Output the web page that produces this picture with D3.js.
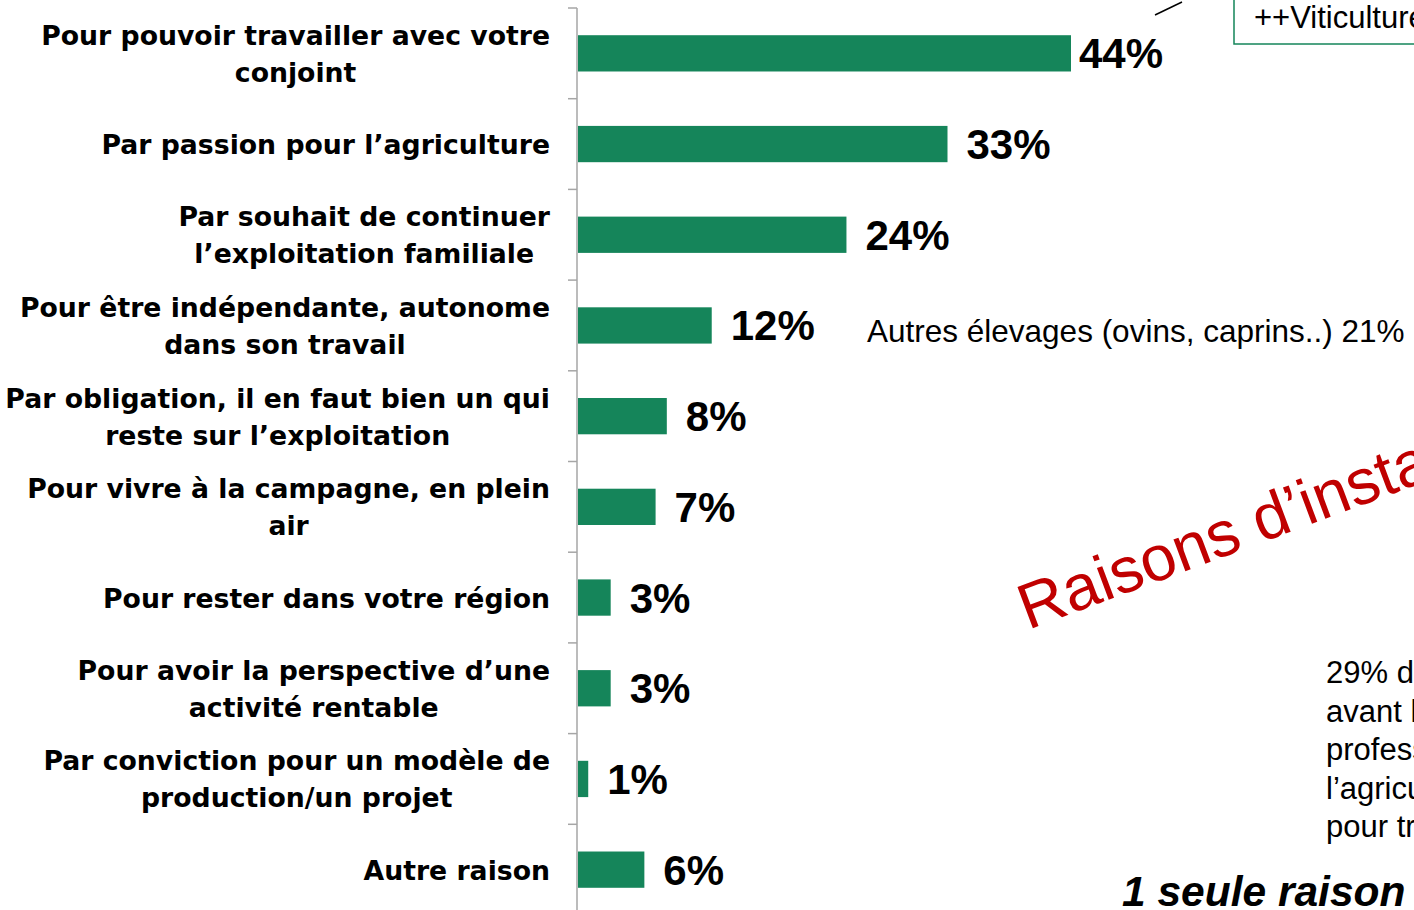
<!DOCTYPE html>
<html>
<head>
<meta charset="utf-8">
<script src="https://cdn.jsdelivr.net/npm/d3@7"></script>
<style>
  body { margin: 0; background: #fff; overflow: hidden; }
  svg { display: block; }
</style>
</head>
<body>
<svg id="chart"></svg>
<script>
// chart data
const categories = [
  ["Pour pouvoir travailler avec votre", "conjoint"],
  ["Par passion pour l’agriculture"],
  ["Par souhait de continuer", "l’exploitation familiale"],
  ["Pour être indépendante, autonome", "dans son travail"],
  ["Par obligation, il en faut bien un qui", "reste sur l’exploitation"],
  ["Pour vivre à la campagne, en plein", "air"],
  ["Pour rester dans votre région"],
  ["Pour avoir la perspective d’une", "activité rentable"],
  ["Par conviction pour un modèle de", "production/un projet"],
  ["Autre raison"]
];
const values = [44, 33, 24, 12, 8, 7, 3, 3, 1, 6];

const noteLines = ["29% des femmes", "avant leur installation", "professionnelle hors de", "l’agriculture", "pour travailler"];

const W = 1414, H = 910;
const svg = d3.select("#chart").attr("width", W).attr("height", H);

const axisX = 577;
const green = "#15855a";
const sans = "Liberation Sans, Arial, sans-serif";

const y = d3.scaleBand()
  .domain(d3.range(categories.length))
  .range([8, 915])
  .paddingInner(0.6)
  .paddingOuter(0.3);

const x = d3.scaleLinear().domain([0, 44]).range([axisX, 1071]);

// axis with ticks at band boundaries
const step = y.step();
const bounds = d3.range(categories.length + 1).map(i => 8 + i * step);
svg.append("line")
  .attr("x1", axisX).attr("x2", axisX)
  .attr("y1", 8).attr("y2", H)
  .attr("stroke", "#a6a6a6").attr("stroke-width", 1.5);
svg.selectAll(".tick").data(bounds).join("line")
  .attr("class", "tick")
  .attr("x1", axisX - 9).attr("x2", axisX)
  .attr("y1", d => d).attr("y2", d => d)
  .attr("stroke", "#a6a6a6").attr("stroke-width", 1.5);

// bars
svg.selectAll(".bar").data(values).join("rect")
  .attr("class", "bar")
  .attr("x", x(0) + 1)
  .attr("y", (d, i) => y(i))
  .attr("width", d => x(d) - x(0) - 1)
  .attr("height", y.bandwidth())
  .attr("fill", green);

// value labels (largest one squeezed next to its bar)
const vmax = d3.max(values);
svg.selectAll(".val").data(values).join("text")
  .attr("class", "val")
  .attr("x", d => x(d) + (d === vmax ? 8 : 19))
  .attr("y", (d, i) => y(i) + y.bandwidth() / 2 + 15)
  .attr("font-family", sans)
  .attr("font-weight", "bold")
  .attr("font-size", 42)
  .attr("fill", "#000")
  .text(d => d + "%");

// category labels: block right-aligned at 550, lines centred within block
const lineH = 37;
categories.forEach((lines, i) => {
  const cy = y(i) + y.bandwidth() / 2;
  const g = svg.append("g");
  const t = g.selectAll("text").data(lines).join("text")
    .attr("font-family", "DejaVu Sans, Verdana, sans-serif")
    .attr("font-weight", "bold")
    .attr("font-size", 26.7)
    .attr("text-anchor", "middle")
    .attr("y", (d, j) => cy + 10 + (j - (lines.length - 1) / 2) * lineH)
    .text(d => d);
  const maxW = d3.max(t.nodes(), n => n.getComputedTextLength());
  t.attr("x", 550 - maxW / 2);
});

// annotations
svg.append("line")
  .attr("x1", 1155).attr("y1", 15).attr("x2", 1182).attr("y2", 2)
  .attr("stroke", "#000").attr("stroke-width", 1.5);
svg.append("rect")
  .attr("x", 1234).attr("y", -5).attr("width", 200).attr("height", 49)
  .attr("fill", "#fff").attr("stroke", green).attr("stroke-width", 1.5);
svg.append("text")
  .attr("x", 1254).attr("y", 28)
  .attr("font-family", sans)
  .attr("font-size", 31)
  .text("++Viticulture");

svg.append("text")
  .attr("x", 867).attr("y", 342)
  .attr("font-family", sans)
  .attr("font-size", 31.5)
  .text("Autres élevages (ovins, caprins..) 21%");

svg.append("text")
  .attr("transform", "translate(1028,630) rotate(-20.5)")
  .attr("font-family", sans)
  .attr("font-size", 64)
  .attr("fill", "#c00000")
  .text("Raisons d’installation");

svg.selectAll(".note").data(noteLines).join("text")
  .attr("class", "note")
  .attr("x", 1326)
  .attr("y", (d, i) => 683 + i * 38.5)
  .attr("font-family", sans)
  .attr("font-size", 31)
  .text(d => d);

svg.append("text")
  .attr("x", 1122).attr("y", 906)
  .attr("font-family", sans)
  .attr("font-size", 42.5)
  .attr("font-weight", "bold")
  .attr("font-style", "italic")
  .text("1 seule raison");
</script>
</body>
</html>
